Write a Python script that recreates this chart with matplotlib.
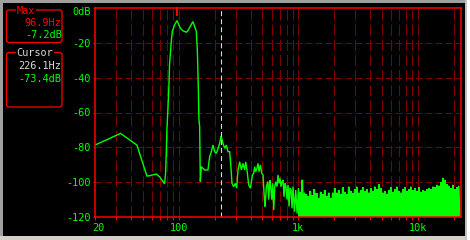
import numpy as np
import matplotlib
matplotlib.use('Agg')
import matplotlib.pyplot as plt
from matplotlib.patches import FancyBboxPatch, Rectangle
from matplotlib.ticker import NullFormatter
import matplotlib.transforms as mtransforms

plt.rcParams['lines.scale_dashes'] = False

# ---------------- data ----------------
low_freq = [20, 32.7, 42.8, 44.8, 54.3, 57.2, 65, 69.3, 76.3, 77.8, 78.9, 79.8, 81.3, 82.9, 84,
            86.8, 88.5, 92.5, 96.9, 103.3, 108.6, 116, 119.6, 131.6, 140.6, 143.3, 146.1, 147.8,
            149.8, 151.8, 154.8, 165, 175.7, 181.6, 187.7, 193.6, 200, 206.6, 213.2, 220.2, 226.1,
            234.8, 242.6, 250.6, 258.4, 267, 272.2, 279.2, 288.4, 298, 305.6, 313.4, 323.8, 334.6,
            345, 356.4, 363.4, 372.6, 385, 397.8, 413.6, 424, 432.2, 440.6, 451.8, 460.6, 469.6,
            482.4, 494.8, 507.4, 521.2, 527.2, 541.6, 555.4, 566.2, 577.2, 588.4, 599.8, 611.6,
            623.4, 635.6, 648, 664.2, 677.2, 690.4, 703.8, 717.6, 731.6, 745.8, 760.2, 775, 790.2,
            805.4, 821.2, 837.2, 853.4, 870, 887, 904, 928.8, 952.4, 976.6]
low_db = [-78.7, -72, -77.7, -78.7, -96.5, -96.3, -95.3, -96.9, -101, -94.9, -82.5, -70, -58.6,
          -45, -32, -19.3, -13.5, -9.7, -7.2, -11.6, -13.1, -13.9, -13, -7.8, -13.5, -24, -46, -64,
          -67.8, -99.7, -91.1, -93, -93, -85.4, -82.5, -78.7, -82.5, -83.5, -80.6, -77.7, -73.4,
          -77.7, -80.6, -78.7, -82.5, -82.5, -89.2, -100.7, -102.6, -100.7, -103.5, -93, -88.3,
          -93, -89.2, -93, -88.3, -93, -101.6, -103.5, -95.9, -94.9, -91.1, -94, -92, -89.2, -94,
          -90.1, -94.9, -95.9, -110, -114, -102.6, -99.7, -110, -98.8, -102.6, -110, -100.7,
          -116, -102.6, -99.7, -102.6, -95.9, -100.7, -97.8, -102.6, -99.7, -98.8, -108.4,
          -100.7, -102.6, -110, -101.6, -114, -103.5, -104.5, -115, -102.6, -117, -104.5, -118]

# dense noise floor above 1 kHz: peak and trough per bin pair
noise_f_start, noise_f_end = 1003, 22400
noise_top = [-103.5, -105.5, -98.5, -106, -107,
             -108, -105, -107.5, -104, -106.5, -109, -105.5, -107, -104.5, -108, -106, -109, -106,
             -103.5, -106, -104.5, -107, -103, -105.5, -107, -102.5, -105, -106.5, -104, -102.5,
             -106, -104.5, -103,
             -105, -104, -106, -103.5, -105, -102.5, -104, -101, -103.5, -106, -105, -107, -104.5,
             -103, -105.5, -104, -102.5, -105, -106, -104, -103, -105, -104, -102.5, -104.5,
             -103.5, -105, -103,
             -105.5, -104.5, -105, -104, -103.5, -104, -102.5, -103, -101.5, -102, -100, -97.5,
             -99, -101, -102, -103.5, -101.5, -104, -103, -102]
noise_bottom = [-120, -118, -120, -120, -117,
                -120, -120, -112, -120, -120, -116, -120, -120, -120, -120, -118, -120, -120,
                -120, -120, -120, -115, -120, -120, -120, -120, -119, -120, -120, -120,
                -120, -120, -120,
                -120, -120, -113, -120, -120, -120, -120, -120, -120, -120, -114, -120, -120,
                -120, -120, -120, -120, -120, -120, -120, -120, -120, -115, -120, -120,
                -120, -120, -120,
                -120, -120, -120, -120, -120, -120, -120, -120, -120, -120, -120, -120,
                -120, -120, -120, -120, -120, -120, -120, -120]

y_ticks = [0, -20, -40, -60, -80, -100, -120]
y_labels = ['0dB', '-20', '-40', '-60', '-80', '-100', '-120']
x_ticks = [20, 100, 1000, 10000]
x_labels = ['20', '100', '1k', '10k']
grid_freqs = [30, 40, 50, 60, 70, 80, 90, 100, 200, 300, 400, 500, 600, 700, 800, 900,
              1000, 2000, 3000, 4000, 5000, 6000, 7000, 8000, 9000, 10000, 20000]
grid_db = [-20, -40, -60, -80, -100]
max_freq, max_db = 96.9, -7.2
cursor_freq, cursor_db = 226.1, -73.4

# ---------------- figure ----------------
W, H = 470, 240
fig = plt.figure(figsize=(W / 100, H / 100), dpi=100, facecolor='black')
ax = fig.add_axes([95 / W, (H - 217) / H, (461 - 95) / W, (217 - 8) / H])
ax.set_facecolor('black')
ax.set_xscale('log')
ax.set_xlim(20, 22900)
ax.set_ylim(-120, 0)

GRID = '#800000'
for f in grid_freqs:
    ax.axvline(f, color=GRID, lw=0.72, dashes=(8, 2.9), zorder=1)
for d in grid_db:
    ax.axhline(d, color=GRID, lw=0.72, dashes=(5, 2.2), zorder=1)

GREEN_LINE = '#00ff00'
n = len(noise_top)
nf = np.geomspace(noise_f_start, noise_f_end, 2 * n)
nz = np.empty(2 * n)
nz[0::2] = noise_top
nz[1::2] = noise_bottom
ax.fill_between(nf[0::2], -120, noise_top, step='mid', color=GREEN_LINE, lw=0, zorder=2)
freq = np.concatenate([low_freq, nf])
db = np.concatenate([low_db, nz])
ax.plot(freq, db, color=GREEN_LINE, lw=1.0, zorder=3, solid_joinstyle='miter')

ax.axvline(cursor_freq, color='#d8d8d8', lw=0.8, dashes=(3.6, 2.2), zorder=4)
ax.plot([max_freq, max_freq], [0, -4.2], color='#ff0000', lw=1.5, zorder=5, clip_on=False)

for s in ax.spines.values():
    s.set_color('#ff0000')
    s.set_linewidth(1.1)
    s.set_zorder(6)

MONO = 'DejaVu Sans Mono'
FS = 7.4
GREEN = '#00ff00'
ax.set_yticks(y_ticks, y_labels)
ax.set_xticks(x_ticks, x_labels)
ax.set_xticks(grid_freqs, minor=True)
ax.xaxis.set_minor_formatter(NullFormatter())
ax.tick_params(axis='both', which='both', colors='#ff0000', direction='out',
               length=1.8, width=0.8, labelcolor=GREEN, labelsize=FS)
ax.tick_params(axis='x', which='major', pad=2.5)
ax.tick_params(axis='y', which='major', pad=1.5)
for lab in ax.get_xticklabels() + ax.get_yticklabels():
    lab.set_fontfamily(MONO)

# adjust first labels like the instrument display
ylab0 = ax.get_yticklabels()[0]
ylab0.set_transform(ylab0.get_transform() + mtransforms.ScaledTranslation(0, -3 / 100, fig.dpi_scale_trans))
xlab0 = ax.get_xticklabels()[0]
xlab0.set_horizontalalignment('left')
xlab0.set_transform(xlab0.get_transform() + mtransforms.ScaledTranslation(-3 / 100, 0, fig.dpi_scale_trans))

# ---------------- overlay in pixel coords ----------------
ov = fig.add_axes([0, 0, 1, 1], zorder=10)
ov.set_xlim(0, W)
ov.set_ylim(H, 0)
ov.axis('off')
ov.patch.set_alpha(0)

ov.add_patch(Rectangle((0, 0), W, 3, color='#a0a0a0', lw=0))
ov.add_patch(Rectangle((0, 0), 3, H, color='#a0a0a0', lw=0))
ov.add_patch(Rectangle((0, 236), W, 4, color='#d4d0c8', lw=0))
ov.add_patch(Rectangle((465, 0), 2, H, color='#c0c0c0', lw=0))
ov.add_patch(Rectangle((467, 0), 3, H, color='#ffffff', lw=0))

RED = '#ff0000'
LG = '#d8d8d8'
for (y0, y1) in [(10, 42.5), (52.5, 107)]:
    ov.add_patch(FancyBboxPatch((6.5, y0), 55.5, y1 - y0,
                                boxstyle='round,pad=0,rounding_size=2.5',
                                ec=RED, fc='none', lw=0.9))

tk = dict(fontfamily=MONO, fontsize=FS, va='center')
bb = dict(fc='black', ec='none', pad=0.6)
ov.text(16.5, 10.5, 'Max', color=RED, ha='left', bbox=bb, **tk)
ov.text(61.5, 23.5, f'{max_freq}Hz', color=RED, ha='right', **tk)
ov.text(61.5, 35, f'{max_db}dB', color=GREEN, ha='right', **tk)
ov.text(16.5, 53, 'Cursor', color=LG, ha='left', bbox=bb, **tk)
ov.text(61.5, 66, f'{cursor_freq}Hz', color=LG, ha='right', **tk)
ov.text(61.5, 79, f'{cursor_db}dB', color=GREEN, ha='right', **tk)

fig.savefig('out.png', dpi=100, facecolor='black')
